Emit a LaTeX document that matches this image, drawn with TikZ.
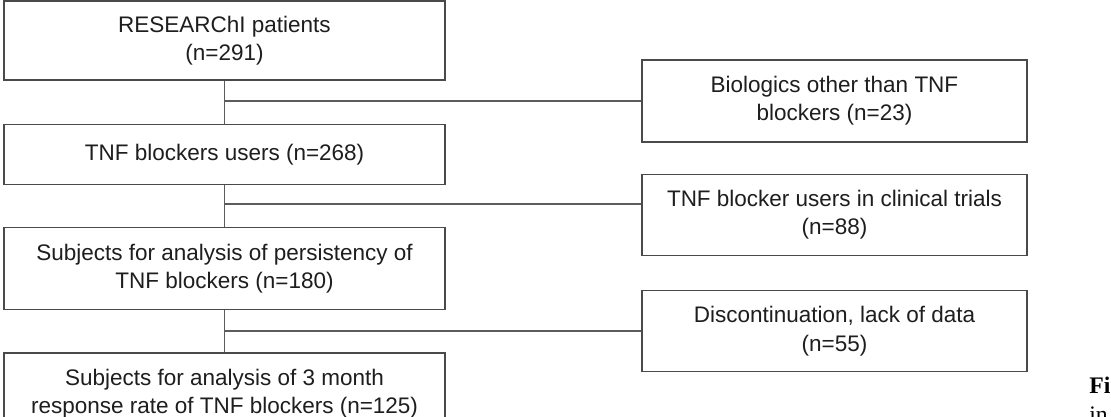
\documentclass[tikz,border=0pt]{standalone}
\usepackage{fontspec}
\setmainfont{Liberation Sans}
\newfontfamily\capfont{Liberation Serif}
\usetikzlibrary{positioning}
\definecolor{ink}{HTML}{1E1E1E}
\definecolor{frame}{HTML}{4A4A4A}
\definecolor{linegray}{HTML}{5C5C5C}
\tikzset{
  flowbox/.style={draw=frame,fill=white,line width=0.75pt,align=center,inner sep=2pt,text=ink,font=\fontsize{12.8}{16}\selectfont},
  mainbox/.style={flowbox,minimum width=8.82cm},
  sidebox/.style={flowbox,minimum width=7.7cm},
  wire/.style={draw=linegray,line width=0.8pt},
  captext/.style={anchor=base west,inner sep=0pt,text=black}
}

\begin{document}
\begin{tikzpicture}[
        node distance=0.84cm
      ]
        \useasboundingbox (0,0) rectangle (22.22,-8.34);
        \clip (0,0) rectangle (22.22,-8.34);

        \node[mainbox,minimum height=1.58cm] (pat) at (4.49,-0.81) {RESEARChI patients\\(n=291)};
        \node[mainbox,minimum height=1.2cm,below=0.86cm of pat] (users) {TNF blockers users (n=268)};
        \node[mainbox,minimum height=1.64cm,below=of users] (pers)
          {Subjects for analysis of persistency of\\TNF blockers (n=180)};
        \node[mainbox,minimum height=1.64cm,below=of pers] (resp)
          {Subjects for analysis of 3 month\\response rate of TNF blockers (n=125)};

        \node[sidebox,minimum height=1.64cm] (bio) at (16.69,-2.02) {Biologics other than TNF\\blockers (n=23)};
        \node[sidebox,minimum height=1.62cm,below=0.62cm of bio] (trial) {TNF blocker users in clinical trials\\(n=88)};
        \node[sidebox,minimum height=1.62cm,below=0.68cm of trial] (disc) {Discontinuation, lack of data\\(n=55)};

        \draw[wire] (pat) -- (users);
        \draw[wire] (users) -- (pers);
        \draw[wire] (pers) -- (resp);

        \coordinate (j1) at (pat.south |- bio.west);
        \coordinate (j2) at (4.49,-4.08);
        \coordinate (j3) at (pat.south |- disc.west);
        \draw[wire] (j1) -- (bio.west);
        \draw[wire] (j2) -- (j2 -| trial.west);
        \draw[wire] (j3) -- (disc.west);

        \node[captext,font=\capfont\bfseries\fontsize{13.5}{16}\selectfont] (figlbl) at (21.78,-7.86) {Fi};
        \node[captext,font=\capfont\fontsize{13.5}{16}\selectfont] (figtxt) at (21.78,-8.44) {in};
      \end{tikzpicture}
\end{document}
